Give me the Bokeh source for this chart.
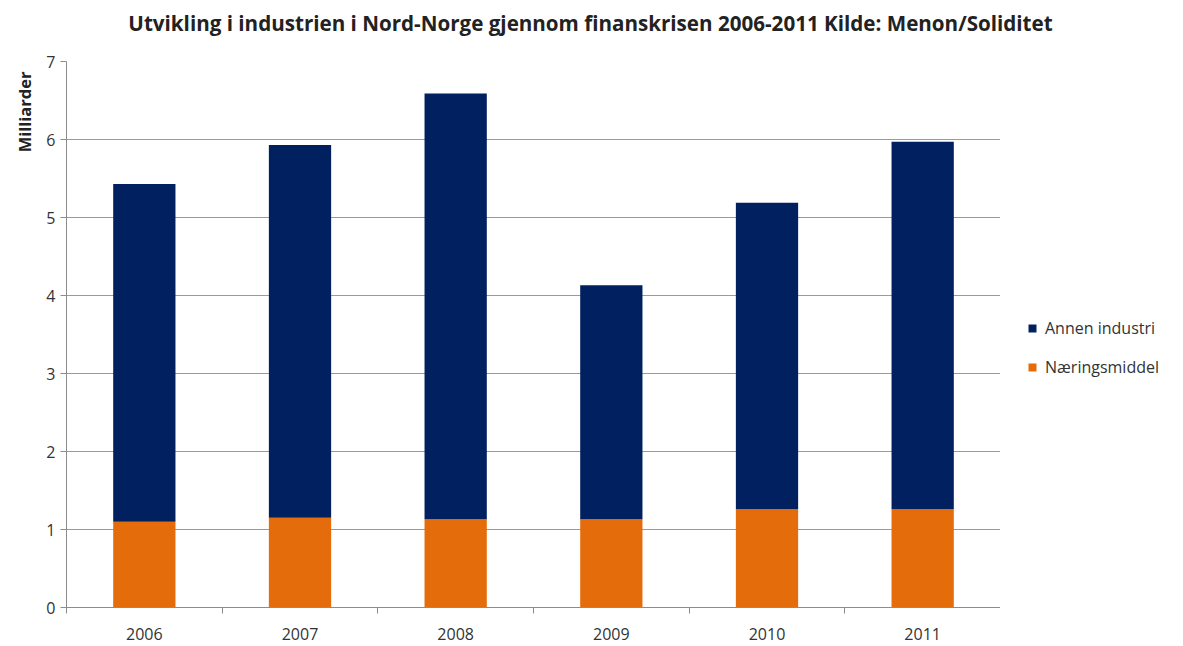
from bokeh.plotting import figure
from bokeh.layouts import row, column
from bokeh.models import ColumnDataSource, FixedTicker, Legend, LegendItem, Range1d, Title, Label
from bokeh.embed import file_html
from bokeh.resources import INLINE

years = ["2006", "2007", "2008", "2009", "2010", "2011"]
naering = [1.10, 1.15, 1.13, 1.13, 1.26, 1.26]
totals = [5.43, 5.93, 6.59, 4.13, 5.19, 5.97]
annen = [round(t - n, 2) for t, n in zip(totals, naering)]
series_labels = ["Annen industri", "Næringsmiddel"]
series_colors = ["#002060", "#E46C0A"]
title_text = "Utvikling i industrien i Nord-Norge gjennom finanskrisen 2006-2011 Kilde: Menon/Soliditet"

xpos = [i + 0.5 for i in range(len(years))]
src = ColumnDataSource(dict(x=xpos, naering=naering, annen=annen, year=years))

FONT = "Open Sans"
TOP_H = 46
H = 600

# title strip
pt = figure(width=1175, height=TOP_H, output_backend="svg", toolbar_location=None,
            x_range=Range1d(0, 1), y_range=Range1d(0, 1), x_axis_type=None, y_axis_type=None,
            min_border_left=0, min_border_right=0, min_border_top=0, min_border_bottom=0)
pt.grid.grid_line_color = None
pt.outline_line_color = None
pt.add_layout(Label(x=590, y=TOP_H - 22, x_units="screen", y_units="screen", text=title_text,
                    text_font=FONT, text_font_size="20.6px", text_font_style="bold",
                    text_color="#222222", text_align="center", text_baseline="middle"))

# main chart
p = figure(width=1000, height=H, output_backend="svg", toolbar_location=None,
           x_range=Range1d(0, 6), y_range=Range1d(0, 7),
           min_border_left=66, min_border_right=0, min_border_top=61 - TOP_H,
           min_border_bottom=646 - 607)

r = p.vbar_stack(["naering", "annen"], x="x", width=0.4, source=src,
                 color=[series_colors[1], series_colors[0]], line_color=None)

p.outline_line_color = None
p.xgrid.grid_line_color = None
p.ygrid.grid_line_color = "#9a9a9a"
p.ygrid.ticker = FixedTicker(ticks=list(range(0, 8)))

p.yaxis.ticker = FixedTicker(ticks=list(range(0, 8)))
p.yaxis.axis_line_color = "#8c8c8c"
p.yaxis.major_tick_line_color = "#8c8c8c"
p.yaxis.major_tick_out = 6
p.yaxis.major_tick_in = 0
p.yaxis.minor_tick_line_color = None
p.yaxis.major_label_text_font = FONT
p.yaxis.major_label_text_font_size = "16px"
p.yaxis.major_label_text_color = "#333333"

ylab = Title(text="Milliarder", align="right", text_font=FONT, text_font_size="16.5px",
             text_font_style="bold", text_color="#222222", offset=10, standoff=16)
p.add_layout(ylab, "left")

p.xaxis.ticker = FixedTicker(ticks=xpos, minor_ticks=list(range(0, 7)))
p.xaxis.major_label_overrides = {x: y for x, y in zip(xpos, years)}
p.xaxis.axis_line_color = "#8c8c8c"
p.xaxis.major_tick_line_color = None
p.xaxis.minor_tick_line_color = "#8c8c8c"
p.xaxis.minor_tick_out = 6
p.xaxis.minor_tick_in = 0
p.xaxis.major_label_standoff = 14
p.xaxis.major_label_text_font = FONT
p.xaxis.major_label_text_font_size = "16px"
p.xaxis.major_label_text_color = "#333333"

# legend panel (its bars lie outside its visible range; only the legend shows)
p2 = figure(width=175, height=H, output_backend="svg", toolbar_location=None,
            x_range=Range1d(-20, -19), y_range=Range1d(0, 1), x_axis_type=None, y_axis_type=None,
            min_border_left=0, min_border_right=0, min_border_top=0, min_border_bottom=0)
p2.grid.grid_line_color = None
p2.outline_line_color = None
r2 = p2.vbar_stack(["annen", "naering"], x="x", width=0.4, source=src,
                   color=series_colors, line_color=None)
legend = Legend(items=[LegendItem(label=series_labels[i], renderers=[r2[i]]) for i in range(2)],
                location=(27, 229))
legend.border_line_color = None
legend.background_fill_alpha = 0
legend.glyph_width = 10
legend.glyph_height = 10
legend.label_text_font = FONT
legend.label_text_font_size = "16px"
legend.label_text_color = "#333333"
legend.label_height = 20
legend.spacing = 17
legend.label_standoff = 8
legend.padding = 10
p2.add_layout(legend, "center")

layout = column(pt, row(p, p2, spacing=0), spacing=0)
open("out.html", "w").write(file_html(layout, INLINE))
